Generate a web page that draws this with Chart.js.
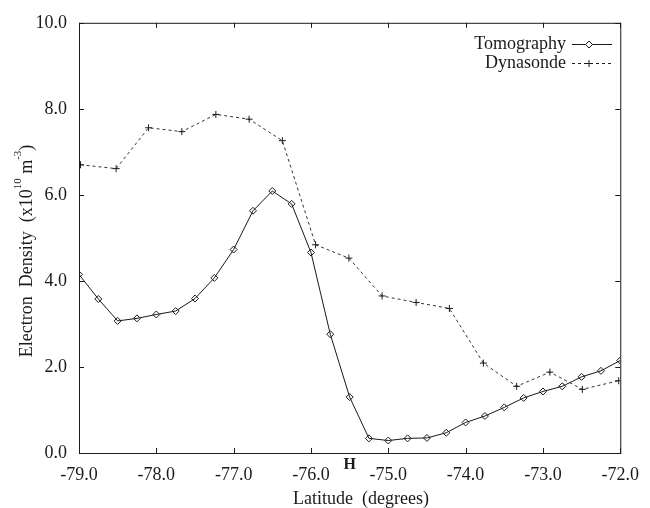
<!DOCTYPE html>
<html>
<head>
<meta charset="utf-8">
<script src="https://cdn.jsdelivr.net/npm/chart.js@4/dist/chart.umd.min.js"></script>
<style>
  html, body { margin: 0; padding: 0; background: #fff; }
  #wrap { width: 650px; height: 508px; }
</style>
</head>
<body>
<div id="wrap"><canvas id="densityChart" width="650" height="508"></canvas></div>
<script>
// data
const tomoLat = [-79.0, -78.75, -78.5, -78.25, -78.0, -77.75, -77.5, -77.25, -77.0, -76.75,
                 -76.5, -76.25, -76.0, -75.75, -75.5, -75.25, -75.0, -74.75, -74.5, -74.25,
                 -74.0, -73.75, -73.5, -73.25, -73.0, -72.75, -72.5, -72.25, -72.0];
const tomoDensity = [4.15, 3.58, 3.07, 3.13, 3.22, 3.30, 3.59, 4.07, 4.73, 5.63,
                     6.09, 5.79, 4.66, 2.76, 1.30, 0.34, 0.29, 0.34, 0.35, 0.47,
                     0.71, 0.86, 1.06, 1.28, 1.43, 1.55, 1.77, 1.91, 2.15];
const dynaLat = [-78.98, -78.52, -78.10, -77.67, -77.23, -76.80, -76.37, -75.94, -75.51,
                 -75.08, -74.64, -74.21, -73.77, -73.34, -72.91, -72.49, -72.02];
const dynaDensity = [6.70, 6.61, 7.56, 7.47, 7.87, 7.76, 7.26, 4.84, 4.53,
                     3.65, 3.50, 3.36, 2.09, 1.55, 1.88, 1.48, 1.68];
const xTicks = [-79, -78, -77, -76, -75, -74, -73, -72];
const yTicks = [0, 2, 4, 6, 8, 10];
const markerLat = -75.5;

const serif = "'Liberation Serif', 'DejaVu Serif', serif";
const ink = '#1a1a1a';

function toPoints(xs, ys) {
    return xs.map((x, i) => ({ x: x, y: ys[i] }));
}

// frame, inward ticks, titles, legend and the H mark
const decorations = {
    id: 'decorations',
    afterDraw(chart) {
        const ctx = chart.ctx;
        const a = chart.chartArea;
        const xs = chart.scales.x;
        const ys = chart.scales.y;
        ctx.save();
        ctx.strokeStyle = ink;
        ctx.lineWidth = 1;
        ctx.strokeRect(a.left + 0.5, a.top + 0.5, a.right - a.left, a.bottom - a.top);

        const tl = 5;
        ctx.beginPath();
        xTicks.forEach(v => {
            const px = Math.round(xs.getPixelForValue(v)) + 0.5;
            ctx.moveTo(px, a.bottom); ctx.lineTo(px, a.bottom - tl);
            ctx.moveTo(px, a.top); ctx.lineTo(px, a.top + tl);
        });
        yTicks.forEach(v => {
            const py = Math.round(ys.getPixelForValue(v)) + 0.5;
            ctx.moveTo(a.left, py); ctx.lineTo(a.left + tl, py);
            ctx.moveTo(a.right, py); ctx.lineTo(a.right - tl, py);
        });
        ctx.stroke();

        ctx.fillStyle = ink;
        // x title
        ctx.font = '18px ' + serif;
        ctx.textAlign = 'center';
        ctx.textBaseline = 'alphabetic';
        ctx.fillText('Latitude  (degrees)', 361, 504);

        // H mark below the axis
        ctx.font = 'bold 16px ' + serif;
        ctx.fillText('H', xs.getPixelForValue(markerLat), 469);

        // y title with superscripts
        ctx.save();
        ctx.translate(32, 251);
        ctx.rotate(-Math.PI / 2);
        const parts = [
            ['Electron  Density  (x10', 18, 0],
            ['10', 11, -11],
            [' m', 18, 0],
            ['-3', 11, -11],
            [')', 18, 0]
        ];
        let total = 0;
        parts.forEach(p => { ctx.font = p[1] + 'px ' + serif; total += ctx.measureText(p[0]).width; });
        let cx = -total / 2;
        ctx.textAlign = 'left';
        parts.forEach(p => {
            ctx.font = p[1] + 'px ' + serif;
            ctx.fillText(p[0], cx, p[2]);
            cx += ctx.measureText(p[0]).width;
        });
        ctx.restore();

        // legend
        ctx.font = '18px ' + serif;
        ctx.textAlign = 'right';
        ctx.textBaseline = 'middle';
        const rows = [
            { label: 'Tomography', y: 44, dash: [], style: 'rectRot' },
            { label: 'Dynasonde', y: 63, dash: [3, 3], style: 'cross' }
        ];
        rows.forEach(r => {
            ctx.fillStyle = ink;
            ctx.fillText(r.label, 566, r.y);
            ctx.beginPath();
            ctx.setLineDash(r.dash);
            ctx.moveTo(572, r.y + 0.5);
            ctx.lineTo(612, r.y + 0.5);
            ctx.stroke();
            ctx.setLineDash([]);
            ctx.fillStyle = '#fff';
            Chart.helpers.drawPoint(ctx, { pointStyle: r.style, radius: 3.5, rotation: 0, borderWidth: 1 }, 589, r.y + 0.5);
        });
        ctx.restore();
    }
};

const chart = new Chart(document.getElementById('densityChart').getContext('2d'), {
    type: 'line',
    data: {
        datasets: [
            {
                label: 'Tomography',
                data: toPoints(tomoLat, tomoDensity),
                borderColor: ink,
                borderWidth: 1,
                pointStyle: 'rectRot',
                pointRadius: 3.5,
                pointBorderColor: ink,
                pointBackgroundColor: 'rgba(0,0,0,0)',
                pointBorderWidth: 1,
                tension: 0
            },
            {
                label: 'Dynasonde',
                data: toPoints(dynaLat, dynaDensity),
                borderColor: '#333',
                borderWidth: 1,
                borderDash: [3, 3],
                pointStyle: 'cross',
                pointRadius: 3.5,
                pointBorderColor: ink,
                pointBorderWidth: 1,
                tension: 0
            }
        ]
    },
    options: {
        responsive: false,
        animation: false,
        layout: { padding: { top: 18, right: 21, left: 0, bottom: 0 } },
        plugins: {
            legend: { display: false },
            tooltip: { enabled: false }
        },
        scales: {
            x: {
                type: 'linear',
                min: -79,
                max: -72,
                afterBuildTicks: (scale) => { scale.ticks = xTicks.map(v => ({ value: v })); },
                afterFit: (scale) => { scale.height = 55; },
                border: { display: false },
                grid: { display: false, drawTicks: false },
                ticks: {
                    padding: 11,
                    color: ink,
                    font: { family: serif, size: 18 },
                    maxRotation: 0,
                    callback: (v) => v.toFixed(1)
                }
            },
            y: {
                min: 0,
                max: 10,
                afterBuildTicks: (scale) => { scale.ticks = yTicks.map(v => ({ value: v })); },
                afterFit: (scale) => { scale.width = 79; },
                border: { display: false },
                grid: { display: false, drawTicks: false },
                ticks: {
                    padding: 12,
                    color: ink,
                    font: { family: serif, size: 18 },
                    callback: (v) => v.toFixed(1)
                }
            }
        }
    },
    plugins: [decorations]
});
</script>
</body>
</html>
